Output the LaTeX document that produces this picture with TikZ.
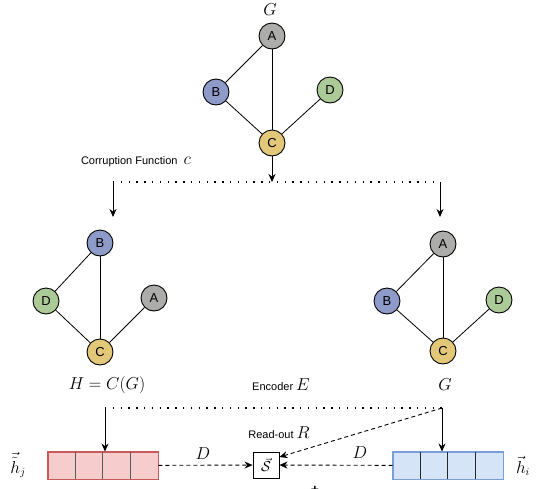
\documentclass[tikz,border=0pt]{standalone}
\usepackage{fontspec}
\setsansfont{Liberation Sans}
\usepackage{amsmath}
\usepackage{amssymb}
\usetikzlibrary{arrows.meta, positioning}
\definecolor{nodegray}{RGB}{172,172,170}
\definecolor{nodeblue}{RGB}{142,154,200}
\definecolor{nodegreen}{RGB}{172,202,152}
\definecolor{nodeyellow}{RGB}{228,200,122}
\definecolor{redfill}{RGB}{246,204,204}
\definecolor{redline}{RGB}{200,90,90}
\definecolor{bluefill}{RGB}{214,228,248}
\definecolor{blueline}{RGB}{120,160,215}

\begin{document}
\begin{tikzpicture}[x=1pt, y=-1pt,
    vertex/.style={circle, draw, line width=0.9pt, minimum size=26pt, inner sep=0pt, font=\sffamily\fontsize{13}{15}\selectfont},
    edge/.style={line width=0.8pt},
    lbl/.style={font=\sffamily\fontsize{11}{13}\selectfont},
    mlbl/.style={font=\fontsize{16}{18}\selectfont},
    flow/.style={-{Stealth[length=8pt,width=7pt]}, line width=0.9pt},
    dots/.style={dash pattern=on 1.4pt off 6.4pt, line width=1.5pt},
    dashes/.style={dash pattern=on 4pt off 3pt, line width=0.9pt, -{Stealth[length=8pt,width=7pt]}},
    vecbox/.style={draw, minimum width=110pt, minimum height=27pt, inner sep=0pt, line width=0.9pt}]
    \useasboundingbox (0,0) rectangle (538,488);

    % Original graph
    \node[mlbl] (tG) at (270,10) {$G$};
    \node[vertex, fill=nodegray] (tA) at (272,36) {A};
    \node[vertex, fill=nodeblue] (tB) at (216,92) {B};
    \node[vertex, fill=nodegreen] (tD) at (330,90) {D};
    \node[vertex, fill=nodeyellow] (tC) at (272,143) {C};
    \draw[edge] (tA) -- (tB);
    \draw[edge] (tA) -- (tC);
    \draw[edge] (tB) -- (tC);
    \draw[edge] (tC) -- (tD);

    % Corruption
    \node[lbl] (corr) at (136,162) {Corruption Function~ {\fontsize{16}{18}\selectfont$c$}};
    \coordinate (split) at (272,182);
    \coordinate (cl) at (113,182);
    \coordinate (cr) at (440,182);
    \coordinate (la) at (113,217);
    \coordinate (ra) at (440,217);
    \draw[flow] (tC) -- (split);
    \draw[dots] (cl) -- (cr);
    \draw[flow] (cl) -- (la);
    \draw[flow] (cr) -- (ra);

    % Corrupted graph
    \node[vertex, fill=nodeblue] (lB) at (100,243) {B};
    \node[vertex, fill=nodegreen] (lD) at (46,301) {D};
    \node[vertex, fill=nodegray] (lA) at (154,298) {A};
    \node[vertex, fill=nodeyellow] (lC) at (100,352) {C};
    \draw[edge] (lB) -- (lD);
    \draw[edge] (lB) -- (lC);
    \draw[edge] (lD) -- (lC);
    \draw[edge] (lC) -- (lA);

    % Copy of the original graph
    \node[vertex, fill=nodegray] (rA) at (443,244) {A};
    \node[vertex, fill=nodeblue] (rB) at (387,301) {B};
    \node[vertex, fill=nodegreen] (rD) at (499,300) {D};
    \node[vertex, fill=nodeyellow] (rC) at (443,351) {C};
    \draw[edge] (rA) -- (rB);
    \draw[edge] (rA) -- (rC);
    \draw[edge] (rB) -- (rC);
    \draw[edge] (rC) -- (rD);

    % Encoder
    \node[mlbl] (hlab) at (107,385) {$H=C(G)$};
    \node[lbl] (enc) at (281,385) {Encoder {\fontsize{16}{18}\selectfont$E$}};
    \node[mlbl] (glab) at (445,385) {$G$};
    \coordinate (el) at (105,408);
    \coordinate (er) at (442,408);

    % Embeddings
    \node[vecbox, fill=redfill, draw=redline] (hj) at (103,465.5) {};
    \node[vecbox, fill=bluefill, draw=blueline] (hi) at (448,465.5) {};
    \foreach \i in {1,2,3} {
        \draw[line width=0.9pt, black!65] ([xshift=\i*27.5pt]hj.north west) -- ([xshift=\i*27.5pt]hj.south west);
        \draw[line width=0.9pt, black!85] ([xshift=\i*27.5pt]hi.north west) -- ([xshift=\i*27.5pt]hi.south west);
    }
    \draw[redline, line width=0.9pt] (hj.north west) rectangle (hj.south east);
    \draw[blueline, line width=0.9pt] (hi.north west) rectangle (hi.south east);
    \node[mlbl] (hjlab) at (18,465) {$\vec{\tilde{h}}_j$};
    \node[mlbl] (hilab) at (523,466) {$\vec{h}_i$};

    \draw[dots] (el) -- (er);
    \draw[flow] (el) -- (el |- hj.north);
    \draw[flow] (er) -- (er |- hi.north);

    % Read-out and discriminator
    \node[lbl] (readout) at (279,433) {Read-out {\fontsize{16}{18}\selectfont$R$}};
    \node[draw, line width=0.9pt, minimum size=26pt, inner sep=0pt, font=\fontsize{15}{17}\selectfont] (S) at (266,465) {$\vec{\mathcal{S}}$};
    \draw[dashes] (hj) -- (S);
    \draw[dashes] (hi) -- (S);
    \draw[dashes] (er) -- ([yshift=8pt]S.east);
    \node[mlbl] (dl) at (203,454) {$D$};
    \node[mlbl] (dr) at (360,453) {$D$};
    \node[font=\sffamily\bfseries\fontsize{14}{16}\selectfont] (plus) at (315,490) {+};
\end{tikzpicture}
\end{document}
